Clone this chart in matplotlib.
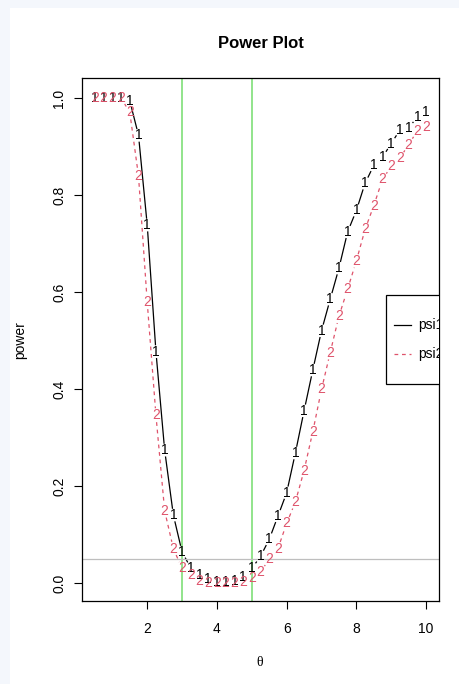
import numpy as np
import matplotlib
matplotlib.use("Agg")
import matplotlib.pyplot as plt
from matplotlib.patches import Rectangle

plt.rcParams['font.family'] = ['Liberation Sans', 'DejaVu Sans']

# data
theta = [0.5, 0.75, 1.0, 1.25, 1.5, 1.75, 2.0, 2.25, 2.5, 2.75,
         3.0, 3.25, 3.5, 3.75, 4.0, 4.25, 4.5, 4.75, 5.0, 5.25,
         5.5, 5.75, 6.0, 6.25, 6.5, 6.75, 7.0, 7.25, 7.5, 7.75,
         8.0, 8.25, 8.5, 8.75, 9.0, 9.25, 9.5, 9.75, 10.0]
psi1 = [1.000, 1.000, 1.000, 1.000, 0.994, 0.923, 0.738, 0.477, 0.274, 0.140,
        0.064, 0.031, 0.017, 0.008, 0.003, 0.002, 0.004, 0.013, 0.030, 0.055,
        0.090, 0.138, 0.186, 0.268, 0.355, 0.439, 0.520, 0.585, 0.649, 0.724,
        0.768, 0.824, 0.861, 0.878, 0.906, 0.934, 0.938, 0.961, 0.970]
psi2 = [1.000, 1.000, 1.000, 1.000, 0.970, 0.839, 0.579, 0.346, 0.149, 0.071,
        0.030, 0.017, 0.004, 0.001, 0.000, 0.000, 0.000, 0.003, 0.010, 0.023,
        0.049, 0.071, 0.123, 0.167, 0.232, 0.312, 0.399, 0.475, 0.550, 0.606,
        0.664, 0.729, 0.778, 0.832, 0.859, 0.876, 0.904, 0.932, 0.940]
series_names = ['psi1', 'psi2']
alpha_level = 0.05
null_bounds = [3, 5]

black = 'black'
red = '#DF536B'
green = '#74dc6c'

fig = plt.figure(figsize=(4.6, 6.84), dpi=100, facecolor='#f4f7fc')
fig.patches.append(Rectangle((10/460, 0), 1, (684-8)/684, transform=fig.transFigure,
                             facecolor='white', edgecolor='none', zorder=-10))

ax = fig.add_axes([81.7/460, (684-601)/684, (439.3-81.7)/460, (601-78.3)/684])
ax.set_xlim(0.12, 10.38)
ax.set_ylim(-0.037, 1.0405)


def gapped(ax, x, y, gap, **kw):
    # R type="b": line segments stop short of each point
    pts = ax.transData.transform(np.column_stack([x, y]))
    inv = ax.transData.inverted()
    for p, q in zip(pts[:-1], pts[1:]):
        d = q - p
        L = np.hypot(*d)
        if L <= 2 * gap:
            continue
        u = d / L
        a = inv.transform(p + u * gap)
        b = inv.transform(q - u * gap)
        ax.plot([a[0], b[0]], [a[1], b[1]], **kw)


gapped(ax, theta, psi1, 7, color=black, lw=0.9)
gapped(ax, theta, psi2, 7, color=red, lw=0.9, dashes=(3, 3))
for x, y in zip(theta, psi1):
    ax.text(x, y, '1', color=black, fontsize=10, ha='center', va='center')
for x, y in zip(theta, psi2):
    ax.text(x, y, '2', color=red, fontsize=10, ha='center', va='center')

for b in null_bounds:
    ax.axvline(b, color=green, lw=1.1)
ax.axhline(alpha_level, color='#bebebe', lw=0.9)

# legend, clipped by the plot region like in R
ax.add_patch(Rectangle((0.851, 0.4152), 0.4, 0.1702, transform=ax.transAxes,
                       facecolor='white', edgecolor='black', lw=0.9, zorder=5))
ax.plot([0.873, 0.920], [0.528, 0.528], transform=ax.transAxes, color=black, lw=0.9, zorder=6)
ax.plot([0.873, 0.920], [0.4725, 0.4725], transform=ax.transAxes, color=red, lw=0.9,
        dashes=(3, 3), zorder=6)
for yy, name in zip([0.528, 0.4725], series_names):
    ax.text(0.940, yy, name, transform=ax.transAxes, fontsize=10, va='center',
            ha='left', clip_on=True, zorder=6)

ax.set_xticks([2, 4, 6, 8, 10])
ax.set_yticks([0.0, 0.2, 0.4, 0.6, 0.8, 1.0])
ax.set_yticklabels(['0.0', '0.2', '0.4', '0.6', '0.8', '1.0'], rotation=90, va='center')
ax.tick_params(direction='out', length=6, width=0.8, labelsize=10)
ax.tick_params(axis='x', pad=9)
ax.tick_params(axis='y', pad=5)
for s in ax.spines.values():
    s.set_linewidth(0.9)

fig.text(261/460, 1 - 44/684, 'Power Plot', ha='center', va='center',
         fontsize=12, fontweight='bold')
fig.text(20/460, 1 - 340/684, 'power', ha='center', va='center', rotation=90, fontsize=10)
fig.text(260/460, 1 - 662/684, 'θ', ha='center', va='center', fontsize=10,
         family=['Liberation Serif', 'DejaVu Serif'])

fig.savefig('out.png', dpi=100, facecolor=fig.get_facecolor())
